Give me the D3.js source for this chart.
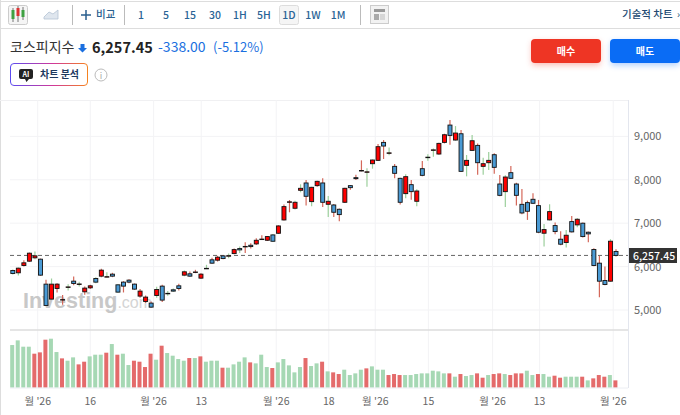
<!DOCTYPE html>
<html>
<head>
<meta charset="utf-8">
<style>
html, body { margin: 0; padding: 0; background: #fff; }
svg { display: block; font-family: "Noto Sans CJK KR", sans-serif; }
</style>
<script src="https://cdn.jsdelivr.net/npm/d3@7"></script>
</head>
<body>
<div id="chart"></div>
<script>
const opens = [5910,5857,6025,6125,6202,6171,5596,5251,5496,5230,5522,5665,5592,5419,5511,5726,5780,5760,5826,5580,5642,5688,5596,5320,5197,5159,5335,5550,5378,5465,5557,5803,5834,5868,5734,5952,6156,6148,6247,6243,6300,6415,6457,6492,6523,6626,6607,6730,6768,7075,7485,7344,7758,7927,7497,7865,7927,7436,7420,7321,7482,7865,8049,8206,8176,8371,8448,8862,8613,8310,8034,7681,7888,7505,8256,8513,8682,8594,8862,9261,8916,9061,8333,8678,8793,8310,8394,8578,7903,7727,8164,7903,7435,7474,7551,7405,6769,7076,6945,6631,6554,7037,6961,7000,6792,6393,6079,5680,5664,6347];
const closes = [5841,5964,6087,6309,6248,5803,5105,5596,5596,5240,5532,5611,5600,5504,5557,5642,5918,5768,5780,5412,5550,5642,5481,5435,5297,5066,5473,5228,5384,5435,5496,5880,5780,5876,5826,5960,6079,6217,6185,6251,6392,6385,6465,6461,6607,6634,6692,6584,6937,7382,7493,7482,7804,7620,7827,7965,7482,7505,7252,7198,7804,7819,8026,8214,8184,8456,8763,8778,8621,8149,7482,8072,7727,7742,8103,8521,8690,8839,9038,9023,9077,8195,8448,8900,8394,8371,8448,8287,7642,8064,8034,7642,7236,7275,7459,6792,6853,7267,6807,6516,6723,6800,7091,6692,6754,6025,5664,5588,6585,6257.45];
const highs = [5933,5979,6148,6324,6347,6186,5695,5726,5619,5343,5596,5772,5649,5542,5580,5757,5949,5872,5857,5596,5665,5711,5611,5481,5335,5197,5534,5580,5435,5496,5603,5910,5887,5926,5849,6041,6202,6248,6270,6300,6415,6461,6561,6538,6653,6722,6707,6753,6952,7428,7535,7520,7896,7996,7842,7980,8034,7627,7443,7336,7819,7880,8118,8448,8264,8471,8824,8916,8747,8364,8049,8126,7996,7781,8432,8586,8724,8854,9061,9376,9238,9146,8571,9031,8839,8509,8640,8609,8110,8103,8317,7934,7788,7520,7689,7536,6984,7436,7014,6815,6846,7168,7122,7014,6807,6424,6247,6002,6631,6401];
const lows = [5818,5795,6002,6110,6171,5787,5090,5235,5404,5120,5450,5573,5542,5350,5481,5619,5757,5757,5757,5396,5404,5619,5465,5281,5159,5051,5281,5182,5327,5419,5450,5780,5764,5849,5718,5949,6064,6117,6170,6193,6285,6316,6316,6415,6500,6615,6592,6569,6753,7060,7252,7313,7712,7405,7390,7842,7374,7144,7144,7044,7466,7773,7996,8195,7842,8256,8433,8479,8563,8034,7428,7574,7543,7390,8080,8440,8532,8578,8839,8808,8900,8179,8080,8663,8118,8118,8225,8141,7620,7374,8018,7405,7206,7076,7444,6769,6462,7060,6746,6493,6439,6784,6907,6669,6562,6009,5296,5572,5649,6232];
// wick colour does not follow the body colour on this chart
const wickDirs = "ggrrgrrgrr" + "grgrrgrgrg" + "rrrrrrgrgg" + "rgrrrgrrrg" + "rgrrrrrgrr" + "rggrgrrgrr" + "rrrrggrrgr" + "rgrgrggrrr" + "grggrggrrg" + "rrrrrrggrr" + "grgrrrrrgr";
const volumes = [128,142,123,123,102,106,144,147,107,88,81,91,70,78,94,99,99,105,131,99,102,68,81,78,62,102,84,126,104,96,86,81,89,89,94,78,81,81,60,60,70,78,91,76,73,99,62,59,76,86,67,46,62,89,65,73,78,49,46,41,54,38,43,54,58,64,54,54,38,41,38,38,38,41,43,43,51,49,43,43,33,41,35,38,43,30,38,41,43,41,38,43,43,51,38,41,41,33,36,30,33,33,33,33,22,28,38,33,38,22];
const volumeDirs = "ggggrrrggr" + "ggrrgggrgr" + "ggrrrrgrgg" + "ggrgrgggrg" + "gggrgggrgg" + "gggrggrgrr" + "ggggrgggrr" + "rggggggggr" + "grggrrgrrg" + "rrrggrggrr" + "gggrgrrrgr";
const priceTicks = [5000, 6000, 7000, 8000, 9000];
const lastPrice = 6257.45;
const monthTickIndex = [4.5, 14, 25.45, 34.05, 47.6, 57.1, 65.5, 75.1, 86.7, 95.2, 108.5];
const monthTickLabels = ["월 '26", "16", "월 '26", "13", "월 '26", "18", "월 '26", "15", "월 '26", "13", "월 '26"];
const intervals = ["1", "5", "15", "30", "1H", "5H", "1D", "1W", "1M"];
const intervalX = [141, 166, 190, 215, 240, 264, 289, 313, 338];

const width = 680, height = 415;
const svg = d3.select("#chart").append("svg")
    .attr("width", width)
    .attr("height", height);

const x = d3.scaleLinear().domain([0, 109]).range([12.8, 616]);
const y = d3.scaleLinear().domain([5000, 9000]).range([310, 136.4]);
const yVol = d3.scaleLinear().domain([0, 150]).range([387.7, 337.7]);

const defs = svg.append("defs");
const grad = defs.append("linearGradient").attr("id", "aiBorder");
grad.append("stop").attr("offset", "0%").attr("stop-color", "#5b4bf0");
grad.append("stop").attr("offset", "55%").attr("stop-color", "#d0389a");
grad.append("stop").attr("offset", "100%").attr("stop-color", "#f58220");
const blur = defs.append("filter").attr("id", "soft").attr("x", "-20%").attr("y", "-40%").attr("width", "140%").attr("height", "200%");
blur.append("feGaussianBlur").attr("stdDeviation", 3);

// page frame
svg.append("rect").attr("x", 0).attr("y", 0).attr("width", 1).attr("height", height).attr("fill", "#ddd");
svg.append("line").attr("x1", 0).attr("x2", width).attr("y1", 1.5).attr("y2", 1.5).attr("stroke", "#ddd");
svg.append("line").attr("x1", 0).attr("x2", width).attr("y1", 28.5).attr("y2", 28.5).attr("stroke", "#ddd");

// toolbar
const bar = svg.append("g");
bar.append("rect").attr("x", 8.5).attr("y", 5.5).attr("width", 19).attr("height", 19).attr("rx", 2).attr("fill", "#f5f5f5").attr("stroke", "#ccc");
[[13, 10, 18, 8, 22, "#3fa142"], [18, 8, 15, 6, 22, "#d33"], [23, 10, 16, 7, 20, "#3fa142"]].forEach(c => {
    bar.append("line").attr("x1", c[0]).attr("x2", c[0]).attr("y1", c[3]).attr("y2", c[4]).attr("stroke", "#777");
    bar.append("rect").attr("x", c[0] - 1.5).attr("y", c[1]).attr("width", 3).attr("height", c[2] - c[1] + 1).attr("fill", c[5]);
});
bar.append("path").attr("d", "M44 17L49 12L53 14L58 10V19H44Z").attr("fill", "#dfe6ee").attr("stroke", "#b4c3d3").attr("stroke-width", 0.8);
[72.5, 124.5, 360.5].forEach(sx => {
    bar.append("line").attr("x1", sx).attr("x2", sx).attr("y1", 5).attr("y2", 25).attr("stroke", "#bbb");
});
bar.append("path").attr("d", "M81 15H91M86 10V20").attr("stroke", "#2a5f8f").attr("stroke-width", 1.5);
bar.append("text").attr("x", 96).attr("y", 18).attr("font-size", 10.5).attr("font-weight", 500).attr("fill", "#2a5f8f").text("비교");
bar.append("rect").attr("x", 279.5).attr("y", 5.5).attr("width", 19).attr("height", 19).attr("rx", 2).attr("fill", "#f5f5f5").attr("stroke", "#ddd");
bar.selectAll("text.iv")
    .data(intervals)
    .join("text")
    .attr("class", "iv")
    .attr("x", (d, i) => intervalX[i])
    .attr("y", 19)
    .attr("text-anchor", "middle")
    .attr("font-size", 10.5)
    .attr("font-weight", 500)
    .attr("fill", "#2a6496")
    .text(d => d);
bar.append("rect").attr("x", 370.5).attr("y", 5.5).attr("width", 18).attr("height", 18).attr("fill", "#f2f2f2").attr("stroke", "#ccc");
bar.append("rect").attr("x", 374).attr("y", 9).attr("width", 11).attr("height", 3).attr("fill", "#999");
bar.append("rect").attr("x", 374).attr("y", 14).attr("width", 5).attr("height", 6).attr("fill", "#aaa");
bar.append("path").attr("d", "M380 15H385M380 17H385M380 19H385").attr("stroke", "#bbb");
bar.append("text").attr("x", 622).attr("y", 18).attr("font-size", 10.5).attr("font-weight", 500).attr("fill", "#234a72").text("기술적 차트");
bar.append("text").attr("x", 677).attr("y", 18).attr("font-size", 10).attr("fill", "#234a72").text("›");

// header
const head = svg.append("g");
head.append("text").attr("x", 10).attr("y", 52).attr("font-size", 14).attr("fill", "#333").text("코스피지수");
head.append("path").attr("d", "M80.5 44H84.5V48H87L82.5 52.5L78 48H80.5Z").attr("fill", "#1a6fe0");
head.append("text").attr("x", 92).attr("y", 53).attr("font-size", 14.5).attr("font-weight", 700).attr("fill", "#222").text("6,257.45");
head.append("text").attr("x", 158).attr("y", 52).attr("font-size", 14).attr("fill", "#1a6fe0").text("-338.00");
head.append("text").attr("x", 213).attr("y", 52).attr("font-size", 13).attr("fill", "#1a6fe0").text("(-5.12%)");

head.append("rect").attr("x", 10.5).attr("y", 63.5).attr("width", 77).attr("height", 22).attr("rx", 3.5).attr("fill", "#fff").attr("stroke", "url(#aiBorder)");
head.append("path").attr("d", "M21 69H31Q33 69 33 71V77Q33 79 31 79H29L26.5 82L25 79H21Q19 79 19 77V71Q19 69 21 69Z").attr("fill", "#222");
head.append("text").attr("x", 26).attr("y", 77).attr("text-anchor", "middle").attr("font-size", 7).attr("font-weight", 700).attr("fill", "#fff").text("AI");
head.append("text").attr("x", 40).attr("y", 78).attr("font-size", 10).attr("font-weight", 700).attr("fill", "#1e3a5f").text("차트 분석");
head.append("circle").attr("cx", 101).attr("cy", 75).attr("r", 6).attr("fill", "#fff").attr("stroke", "#bbb");
head.append("text").attr("x", 101).attr("y", 79).attr("text-anchor", "middle").attr("font-size", 9).attr("fill", "#aaa").text("i");

[[531, 70, "#ee3524", "매수"], [610, 70, "#0a6cf5", "매도"]].forEach(b => {
    head.append("rect").attr("x", b[0] + 1).attr("y", 42).attr("width", b[1] - 2).attr("height", 23).attr("fill", b[2]).attr("opacity", 0.35).attr("filter", "url(#soft)");
    head.append("rect").attr("x", b[0]).attr("y", 39).attr("width", b[1]).attr("height", 24).attr("rx", 4).attr("fill", b[2]);
    head.append("text").attr("x", b[0] + 35).attr("y", 55).attr("text-anchor", "middle").attr("font-size", 10).attr("font-weight", 700).attr("fill", "#fff").text(b[3]);
});

// grid
const grid = svg.append("g");
grid.append("line").attr("x1", 0).attr("x2", 628).attr("y1", 100.5).attr("y2", 100.5).attr("stroke", "#f0f0f2");
grid.selectAll("line.h")
    .data(priceTicks)
    .join("line")
    .attr("class", "h")
    .attr("x1", 10).attr("x2", 628)
    .attr("y1", d => y(d)).attr("y2", d => y(d))
    .attr("stroke", "#f3f3f5");
grid.selectAll("line.v")
    .data(monthTickIndex)
    .join("line")
    .attr("class", "v")
    .attr("x1", d => x(d)).attr("x2", d => x(d))
    .attr("y1", 100).attr("y2", 388)
    .attr("stroke", "#f3f3f5");

// watermark
const mark = svg.append("text").attr("x", 23).attr("y", 308).attr("font-family", "Liberation Sans, sans-serif").attr("fill", "#c8c8c8");
mark.append("tspan").attr("font-size", 21.5).attr("font-weight", 700).text("Investing");
mark.append("tspan").attr("font-size", 16).attr("fill", "#d4d4d4").text(".com");

// right axis
const axis = svg.append("g")
    .attr("transform", "translate(628,0)")
    .call(d3.axisRight(y).tickValues(priceTicks).tickSize(0).tickPadding(6).tickFormat(d3.format(",")));
axis.select(".domain").remove();
axis.selectAll("text").attr("font-family", "Noto Sans CJK KR, sans-serif").attr("font-size", 11).attr("fill", "#666");
svg.append("line").attr("x1", 628.5).attr("x2", 628.5).attr("y1", 100).attr("y2", 388).attr("stroke", "#e3e6ee");

// last price
svg.append("line")
    .attr("x1", 10).attr("x2", 628)
    .attr("y1", y(lastPrice)).attr("y2", y(lastPrice))
    .attr("stroke", "#666")
    .attr("stroke-dasharray", "4,3");

// candles
const candle = svg.append("g").selectAll("g")
    .data(d3.range(opens.length))
    .join("g");
candle.append("line")
    .attr("x1", i => x(i)).attr("x2", i => x(i))
    .attr("y1", i => y(highs[i])).attr("y2", i => y(lows[i]))
    .attr("stroke", i => wickDirs[i] === "g" ? "#9ccf9c" : "#d4685a")
    .attr("stroke-width", 1.2);
candle.append("rect")
    .attr("x", i => x(i) - 2)
    .attr("width", 4)
    .attr("y", i => y(Math.max(opens[i], closes[i])))
    .attr("height", i => Math.max(0.5, Math.abs(y(opens[i]) - y(closes[i]))))
    .attr("fill", i => closes[i] >= opens[i] ? "#f00" : "#4a9ad4")
    .attr("stroke", "#111")
    .attr("stroke-width", 0.9);

// last price tag
svg.append("rect").attr("x", 629).attr("y", 248).attr("width", 48).attr("height", 15).attr("fill", "#333");
svg.append("text").attr("x", 633).attr("y", 259.5).attr("font-size", 10.5).attr("font-weight", 500).attr("fill", "#fff").text("6,257.45");

// volume
svg.append("line").attr("x1", 10).attr("x2", 628).attr("y1", 330).attr("y2", 330).attr("stroke", "#ddd").attr("stroke-width", 1.5);
svg.append("g").selectAll("rect")
    .data(volumes)
    .join("rect")
    .attr("x", (d, i) => x(i) - 2.6)
    .attr("width", 4)
    .attr("y", d => yVol(d))
    .attr("height", d => yVol(0) - yVol(d))
    .attr("fill", (d, i) => volumeDirs[i] === "g" ? "#a6d8b4" : "#e46b6b");
svg.append("line").attr("x1", 10).attr("x2", 628).attr("y1", 388).attr("y2", 388).attr("stroke", "#eceef3");

// month labels
svg.append("g").selectAll("text")
    .data(monthTickIndex)
    .join("text")
    .attr("x", d => x(d))
    .attr("y", 405)
    .attr("text-anchor", "middle")
    .attr("font-size", 10.5)
    .attr("fill", "#666")
    .text((d, i) => monthTickLabels[i]);
</script>
</body>
</html>
